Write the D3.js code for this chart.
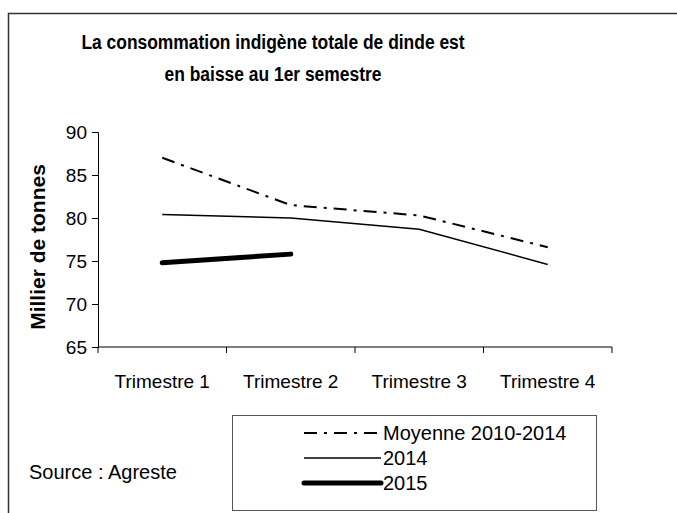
<!DOCTYPE html>
<html>
<head>
<meta charset="utf-8">
<script src="https://cdn.jsdelivr.net/npm/d3@7"></script>
<style>
  body { margin: 0; background: #fff; }
  text { font-family: "Liberation Sans", Arial, sans-serif; fill: #000; }
</style>
</head>
<body>
<svg width="677" height="513"></svg>
<script>
// chart values
var categories = ["Trimestre 1", "Trimestre 2", "Trimestre 3", "Trimestre 4"];
var moyenne = [87.0, 81.5, 80.3, 76.6];
var serie2014 = [80.4, 80.0, 78.7, 74.6];
var serie2015 = [74.8, 75.8];
var yTicks = [65, 70, 75, 80, 85, 90];
var titleLines = ["La consommation indigène totale de dinde est", "en baisse au 1er semestre"];
var legendLabels = ["Moyenne 2010-2014", "2014", "2015"];

var svg = d3.select("svg");

// outer frame (right and bottom edges fall outside the picture)
svg.append("rect")
    .attr("x", 8.5).attr("y", 13.5)
    .attr("width", 700).attr("height", 600)
    .attr("fill", "none")
    .attr("stroke", "#333")
    .attr("stroke-width", 1.5);

// title, a bit condensed like the original
svg.selectAll(".title")
  .data(titleLines)
  .enter().append("text")
    .attr("class", "title")
    .attr("transform", function(d, i) { return "translate(273," + (49 + i * 32) + ") scale(0.83,1)"; })
    .attr("text-anchor", "middle")
    .attr("font-weight", "bold")
    .attr("font-size", 21)
    .text(function(d) { return d; });

// scales
var x = d3.scaleBand()
    .domain(categories)
    .range([98, 612]);
var y = d3.scaleLinear()
    .domain([65, 90])
    .range([347, 132]);
var cx = function(i) { return x(categories[i]) + x.bandwidth() / 2; };

// y axis
var yAxis = svg.append("g")
    .attr("transform", "translate(98,0)")
    .call(d3.axisLeft(y).tickValues(yTicks).tickSize(6).tickPadding(5));
yAxis.select(".domain").attr("stroke", "#000");
yAxis.selectAll("text")
    .attr("font-size", 19)
    .attr("font-family", "Liberation Sans, Arial, sans-serif");

// x axis: ticks sit on the category boundaries
var xAxis = svg.append("g")
    .attr("transform", "translate(0,347)");
xAxis.append("line")
    .attr("x1", x.range()[0]).attr("x2", x.range()[1])
    .attr("stroke", "#000");
xAxis.selectAll(".tick")
  .data(categories.concat([null]))
  .enter().append("line")
    .attr("x1", function(d, i) { return x.range()[0] + i * x.step(); })
    .attr("x2", function(d, i) { return x.range()[0] + i * x.step(); })
    .attr("y1", 0).attr("y2", 6)
    .attr("stroke", "#000");
xAxis.selectAll(".lab")
  .data(categories)
  .enter().append("text")
    .attr("x", function(d) { return x(d) + x.bandwidth() / 2; })
    .attr("y", 41)
    .attr("text-anchor", "middle")
    .attr("font-size", 19)
    .text(function(d) { return d; });

// y axis title
svg.append("text")
    .attr("transform", "translate(45,247) rotate(-90)")
    .attr("text-anchor", "middle")
    .attr("font-weight", "bold")
    .attr("font-size", 21)
    .text("Millier de tonnes");

// lines
var line = d3.line()
    .x(function(d, i) { return cx(i); })
    .y(function(d) { return y(d); });

var styles = [
  { data: moyenne, width: 2, dash: "13,7,3,7", cap: "butt" },
  { data: serie2014, width: 1.5, dash: null, cap: "butt" },
  { data: serie2015, width: 5, dash: null, cap: "round" }
];

svg.selectAll(".serie")
  .data(styles)
  .enter().append("path")
    .attr("class", "serie")
    .attr("d", function(d) { return line(d.data); })
    .attr("fill", "none")
    .attr("stroke", "#000")
    .attr("stroke-width", function(d) { return d.width; })
    .attr("stroke-dasharray", function(d) { return d.dash; })
    .attr("stroke-linecap", function(d) { return d.cap; });

// legend
var lg = svg.append("g");
lg.append("rect")
    .attr("x", 232.5).attr("y", 415.5)
    .attr("width", 364).attr("height", 95)
    .attr("fill", "#fff")
    .attr("stroke", "#555")
    .attr("stroke-width", 1);

var items = lg.selectAll(".item")
  .data(styles)
  .enter().append("g")
    .attr("class", "item")
    .attr("transform", function(d, i) { return "translate(0," + (433 + i * 25) + ")"; });
items.append("line")
    .attr("x1", 304).attr("x2", 381)
    .attr("stroke", "#000")
    .attr("stroke-width", function(d) { return d.width; })
    .attr("stroke-dasharray", function(d) { return d.dash; })
    .attr("stroke-linecap", function(d) { return d.cap; });
items.append("text")
    .attr("x", 383)
    .attr("y", 7)
    .attr("font-size", 20)
    .text(function(d, i) { return legendLabels[i]; });

// source note
svg.append("text")
    .attr("x", 29)
    .attr("y", 479)
    .attr("font-size", 20)
    .text("Source : Agreste");
</script>
</body>
</html>
